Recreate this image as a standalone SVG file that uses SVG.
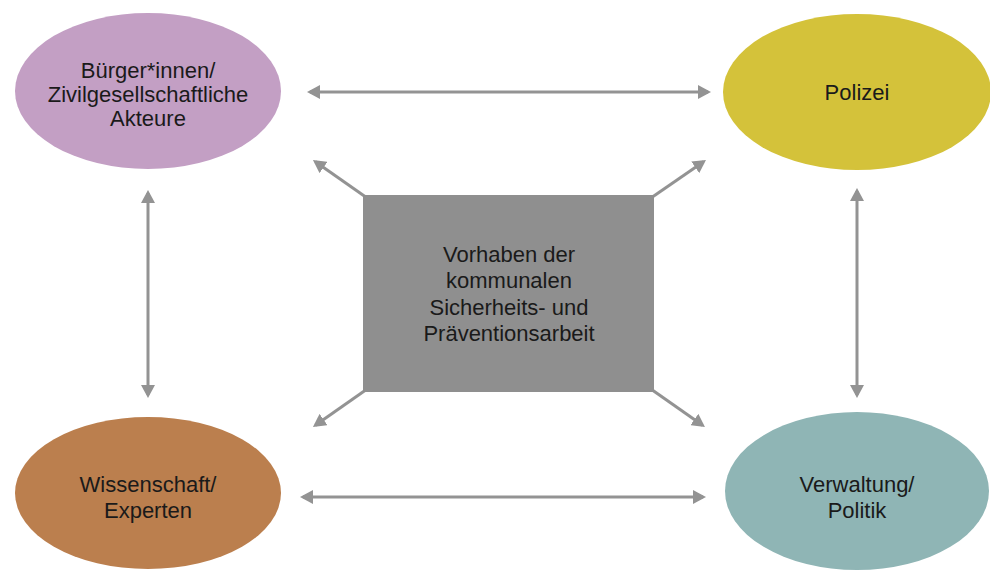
<svg xmlns="http://www.w3.org/2000/svg" width="990" height="570" viewBox="0 0 990 570">
  <style>
    .lbl { font-family: "Liberation Sans", Arial, sans-serif; font-size: 22px; fill: #1a1a1a; text-anchor: middle; }
    .con { stroke: #939393; stroke-width: 3; fill: none; }
  </style>
  <defs>
    <marker id="ah" markerUnits="userSpaceOnUse" markerWidth="13" markerHeight="14" refX="10" refY="7" orient="auto-start-reverse" viewBox="0 0 13 14">
      <path d="M0,0 L13,7 L0,14 z" fill="#939393"/>
    </marker>
  </defs>
  <rect width="990" height="570" fill="#ffffff"/>
  <g id="connectors">
    <line class="con" x1="310" y1="92" x2="708" y2="92" marker-start="url(#ah)" marker-end="url(#ah)"/>
    <line class="con" x1="303" y1="497" x2="703" y2="497" marker-start="url(#ah)" marker-end="url(#ah)"/>
    <line class="con" x1="148" y1="193" x2="148" y2="395" marker-start="url(#ah)" marker-end="url(#ah)"/>
    <line class="con" x1="857" y1="191" x2="857" y2="395" marker-start="url(#ah)" marker-end="url(#ah)"/>
    <line class="con" x1="370" y1="200" x2="315.4" y2="161.7" marker-end="url(#ah)"/>
    <line class="con" x1="648" y1="200" x2="703.5" y2="161.7" marker-end="url(#ah)"/>
    <line class="con" x1="370" y1="387" x2="315.4" y2="425.3" marker-end="url(#ah)"/>
    <line class="con" x1="648" y1="387" x2="702.5" y2="425.3" marker-end="url(#ah)"/>
  </g>
  <g id="buerger">
    <ellipse cx="148" cy="91" rx="133" ry="78" fill="#c39fc4"/>
    <text class="lbl" x="148" y="78">Bürger*innen/</text>
    <text class="lbl" x="148" y="102">Zivilgesellschaftliche</text>
    <text class="lbl" x="148" y="126">Akteure</text>
  </g>
  <g id="polizei">
    <ellipse cx="857" cy="92" rx="134" ry="78" fill="#d4c23a"/>
    <text class="lbl" x="857" y="100">Polizei</text>
  </g>
  <g id="wissenschaft">
    <ellipse cx="148" cy="493" rx="133" ry="76" fill="#bb7f4e"/>
    <text class="lbl" x="148" y="492">Wissenschaft/</text>
    <text class="lbl" x="148" y="518">Experten</text>
  </g>
  <g id="verwaltung">
    <ellipse cx="857" cy="491" rx="132" ry="79" fill="#8fb5b5"/>
    <text class="lbl" x="857" y="492">Verwaltung/</text>
    <text class="lbl" x="857" y="518">Politik</text>
  </g>
  <g id="vorhaben">
    <rect x="363" y="195" width="291" height="197" fill="#8f8f8f"/>
    <text class="lbl" x="509" y="262">Vorhaben der</text>
    <text class="lbl" x="509" y="288">kommunalen</text>
    <text class="lbl" x="509" y="315">Sicherheits- und</text>
    <text class="lbl" x="509" y="341">Präventionsarbeit</text>
  </g>
</svg>
